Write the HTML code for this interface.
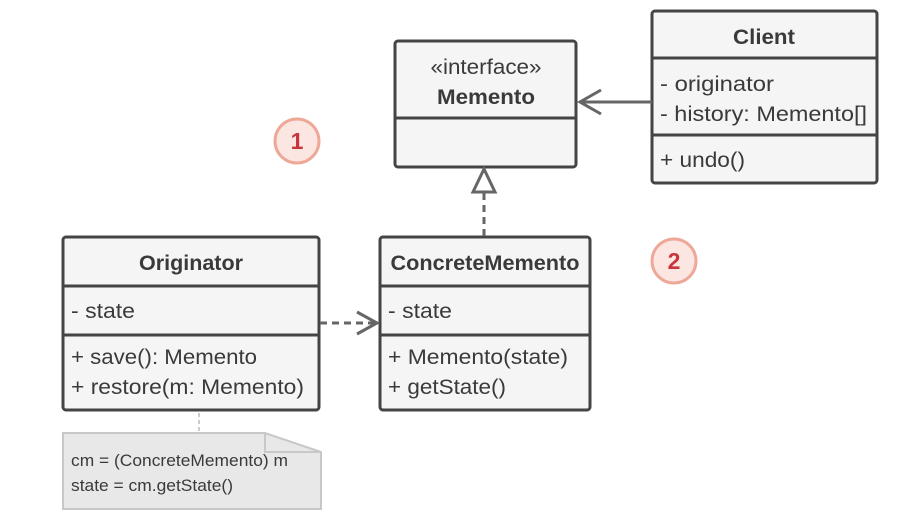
<!DOCTYPE html>
<html><head><meta charset="utf-8"><style>
html,body{margin:0;padding:0;background:#fff;}
svg{display:block;}
text{font-family:"Liberation Sans",sans-serif;fill:#3a3a3a;}
.b{font-weight:bold;}
</style></head><body>
<svg width="902" height="532" viewBox="0 0 902 532" xmlns="http://www.w3.org/2000/svg">
<g stroke="#444" stroke-width="3" fill="#f5f5f5">
  <rect x="395" y="41" width="181" height="126" rx="3"/>
  <line x1="395" y1="118" x2="576" y2="118"/>
  <rect x="652" y="11" width="225" height="172" rx="3"/>
  <line x1="652" y1="58" x2="877" y2="58"/>
  <line x1="652" y1="135" x2="877" y2="135"/>
  <rect x="63" y="237" width="256" height="173" rx="3"/>
  <line x1="63" y1="286" x2="319" y2="286"/>
  <line x1="63" y1="335" x2="319" y2="335"/>
  <rect x="380" y="237" width="210" height="173" rx="3"/>
  <line x1="380" y1="286" x2="590" y2="286"/>
  <line x1="380" y1="335" x2="590" y2="335"/>
</g>
<line x1="199" y1="413" x2="199" y2="432" stroke="#ccc" stroke-width="2" stroke-dasharray="4,3"/>
<path d="M63 433 H265 L321 452 V509 H63 Z" fill="#e8e8e8" stroke="#c8c8c8" stroke-width="2"/>
<path d="M265 433 V452 H321" fill="none" stroke="#c8c8c8" stroke-width="2"/>
<g stroke="#666" stroke-width="3" fill="none">
  <line x1="652" y1="102" x2="580" y2="102"/>
  <polyline points="601,90 580,102 601,114"/>
  <line x1="484" y1="193" x2="484" y2="237" stroke-dasharray="7,5"/>
  <polygon points="484,169 473,192 495,192" fill="#fff"/>
  <line x1="320" y1="323" x2="376" y2="323" stroke-dasharray="7,5"/>
  <polyline points="357,312 377,323 357,334"/>
</g>
<circle cx="297" cy="141" r="22" fill="#fbe6e2" stroke="#eea898" stroke-width="3"/>
<text x="297" y="149" font-size="23" class="b" text-anchor="middle" style="fill:#c8353d">1</text>
<circle cx="674" cy="261" r="22" fill="#fbe6e2" stroke="#eea898" stroke-width="3"/>
<text x="674" y="269" font-size="23" class="b" text-anchor="middle" style="fill:#c8353d">2</text>
<g font-size="21">
<text x="486" y="74" text-anchor="middle" textLength="111" lengthAdjust="spacingAndGlyphs">«interface»</text>
<text x="486" y="104" text-anchor="middle" class="b" textLength="98" lengthAdjust="spacingAndGlyphs">Memento</text>
<text x="764" y="44" text-anchor="middle" class="b" textLength="62" lengthAdjust="spacingAndGlyphs">Client</text>
<text x="660" y="91" textLength="114" lengthAdjust="spacingAndGlyphs">- originator</text>
<text x="660" y="121" textLength="207" lengthAdjust="spacingAndGlyphs">- history: Memento[]</text>
<text x="660" y="167" textLength="85" lengthAdjust="spacingAndGlyphs">+ undo()</text>
<text x="191" y="270" text-anchor="middle" class="b" textLength="104" lengthAdjust="spacingAndGlyphs">Originator</text>
<text x="71" y="318" textLength="64" lengthAdjust="spacingAndGlyphs">- state</text>
<text x="71" y="364" textLength="186" lengthAdjust="spacingAndGlyphs">+ save(): Memento</text>
<text x="71" y="394" textLength="233" lengthAdjust="spacingAndGlyphs">+ restore(m: Memento)</text>
<text x="485" y="270" text-anchor="middle" class="b" textLength="189" lengthAdjust="spacingAndGlyphs">ConcreteMemento</text>
<text x="388" y="318" textLength="64" lengthAdjust="spacingAndGlyphs">- state</text>
<text x="388" y="364" textLength="180" lengthAdjust="spacingAndGlyphs">+ Memento(state)</text>
<text x="388" y="394" textLength="118" lengthAdjust="spacingAndGlyphs">+ getState()</text>
</g>
<g font-size="17">
<text x="71" y="466" textLength="217" lengthAdjust="spacingAndGlyphs">cm = (ConcreteMemento) m</text>
<text x="71" y="491" textLength="162" lengthAdjust="spacingAndGlyphs">state = cm.getState()</text>
</g>
</svg>
</body></html>
